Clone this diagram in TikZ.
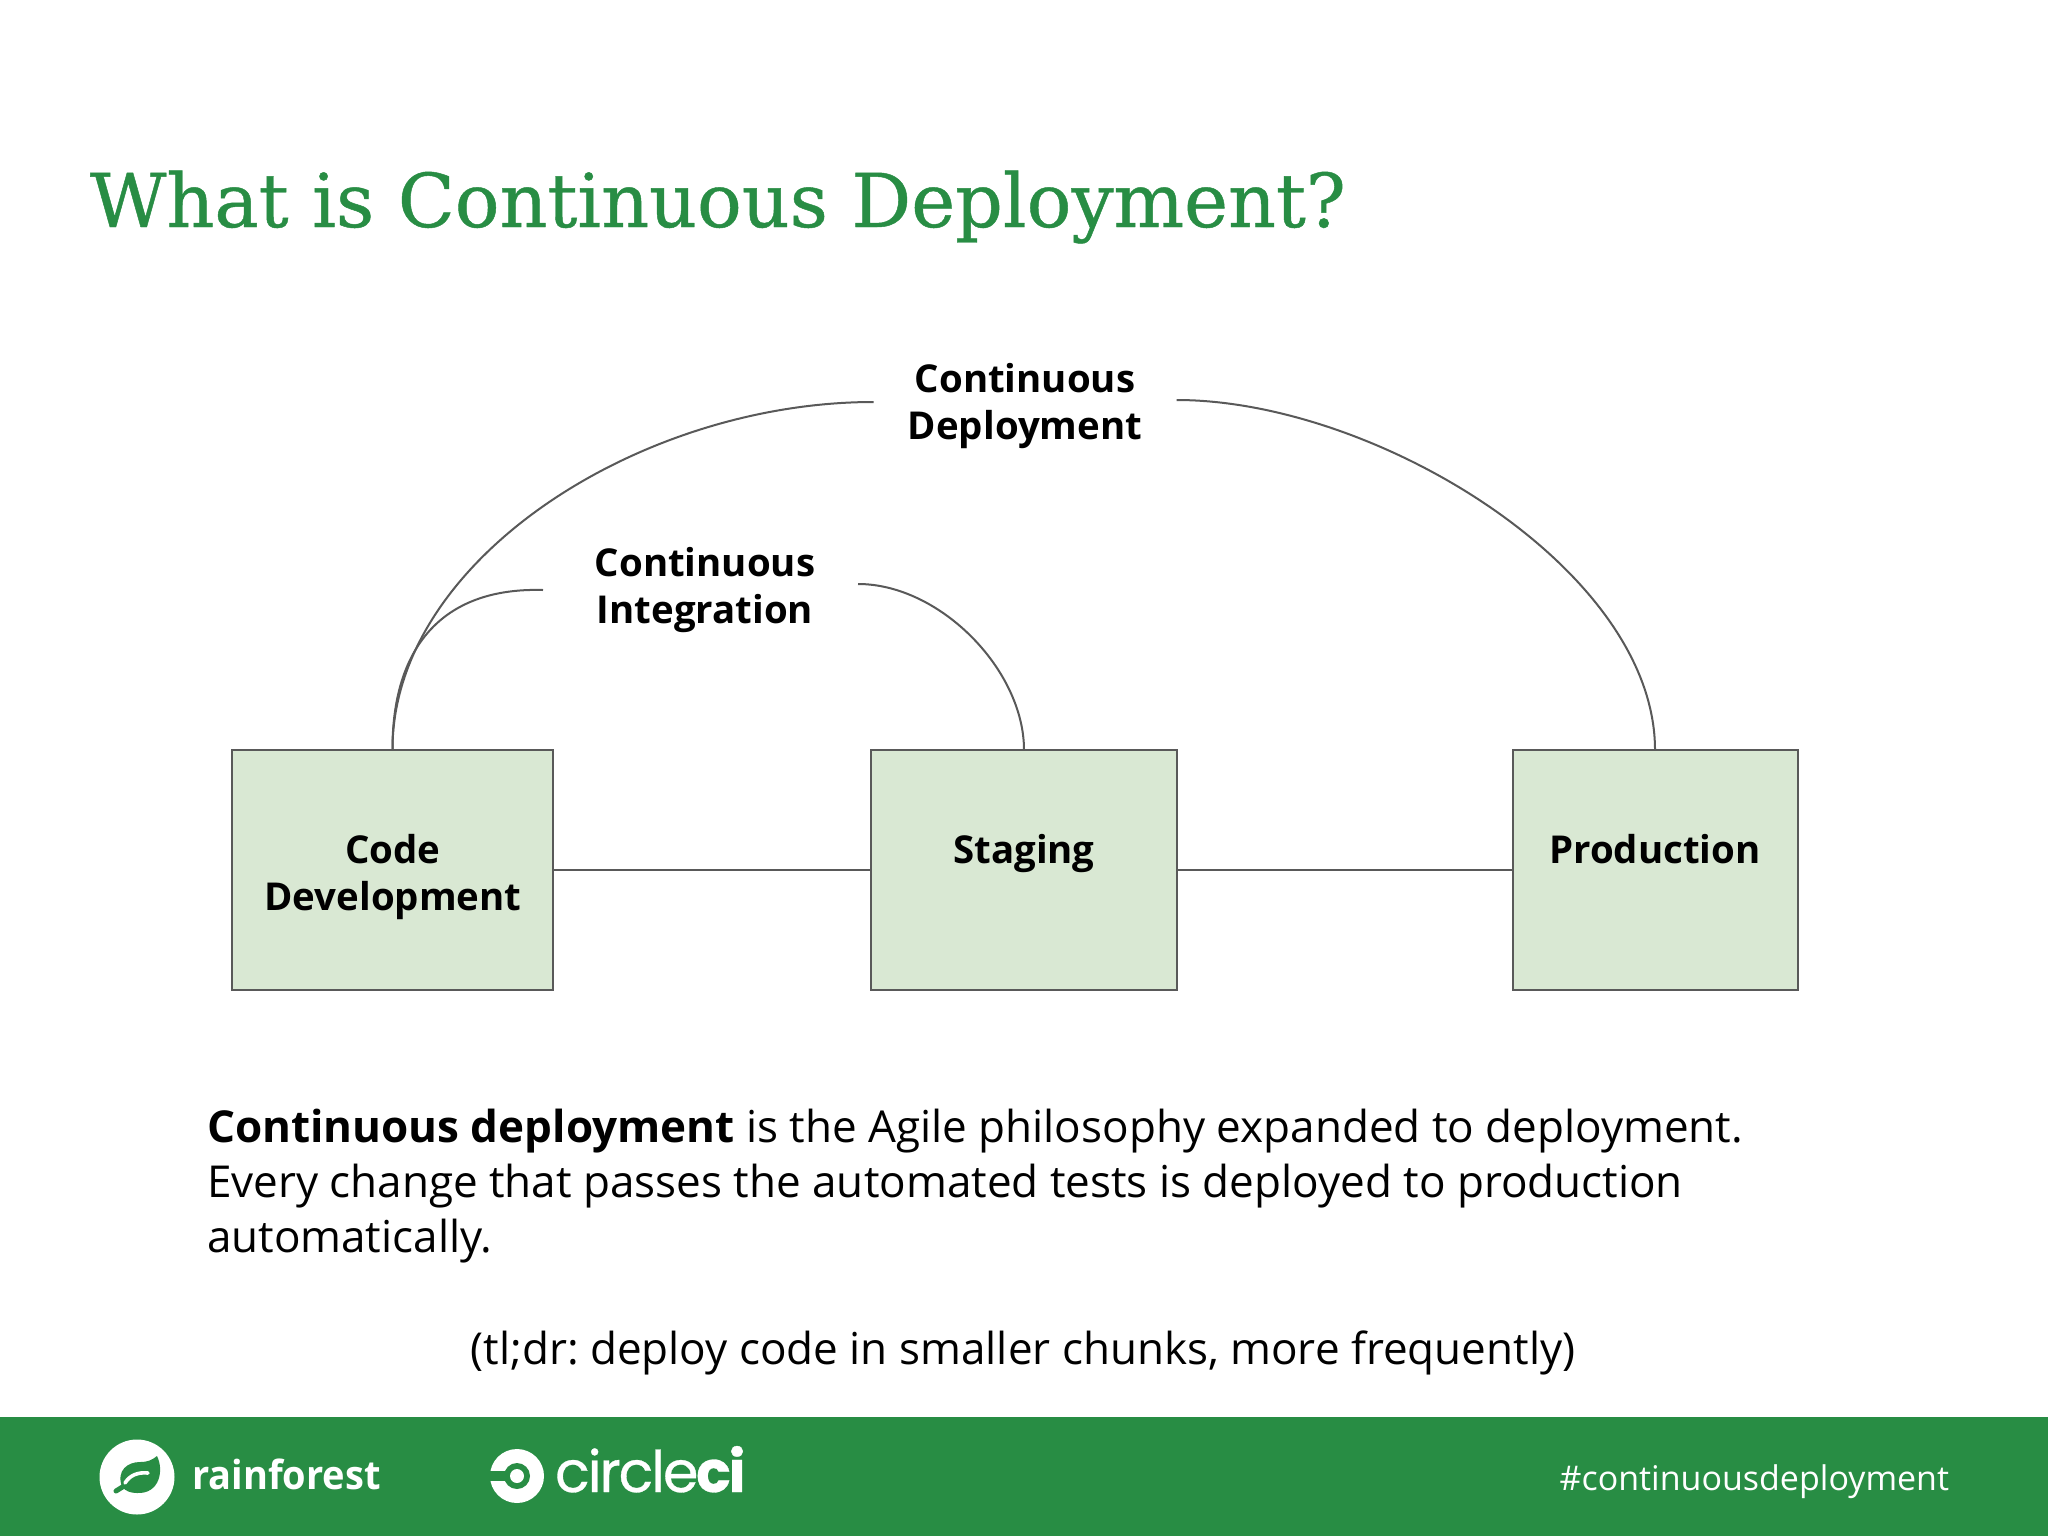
\documentclass[tikz,border=0pt]{standalone}
\usepackage{fontspec}
\setmainfont{Open Sans}
\newfontfamily\slabfont[FakeBold=0.6]{DejaVu Serif}
\newfontfamily\logofont[FakeBold=0.5,LetterSpace=-4]{Poppins}
\usetikzlibrary{positioning}
\frenchspacing
\definecolor{cgreen}{RGB}{40,141,68}
\definecolor{cbox}{RGB}{217,232,211}
\definecolor{cline}{RGB}{89,89,89}
\tikzset{
  stagebox/.style={draw=cline,fill=cbox,line width=1pt,inner sep=0pt},
  looplabel/.style={inner sep=0pt,align=center,font=\fontsize{19.2}{23.5}\selectfont\bfseries},
  looparc/.style={draw=cline,line width=1pt},
  bodytext/.style={inner sep=0pt,align=left,font=\fontsize{22}{27.7}\selectfont},
  logotext/.style={inner sep=0pt,text=white,anchor=base west}
}
\begin{document}
\begin{tikzpicture}[y=0.5pt, x=0.5pt,yscale=-1, inner sep=0pt, outer sep=0pt]
  \useasboundingbox (0,0) rectangle (2048,1536);
  \path[fill=white] (0,0) rectangle (2048,1536);
  \path[fill=cgreen] (0,1417) rectangle (2048,1536);
  % title
  \node[anchor=base west,text=cgreen,font=\fontsize{37.2}{40}\slabfont] (title) at (90,227) {What is Continuous Deployment?};
  % stages
  \node[stagebox,minimum width=160.5pt,minimum height=120pt] (code) at (392.5,870) {};
  \node[stagebox,minimum width=153pt,minimum height=120pt] (staging) at (1024,870) {};
  \node[stagebox,minimum width=142.5pt,minimum height=120pt] (production) at (1655,870) {};
  \node[looplabel] (codetext) at (393,877) {Code\\Development};
  \node[looplabel] (stagingtext) at (1024,854) {Staging};
  \node[looplabel] (productiontext) at (1655,849) {Production};
  \draw[looparc] (code.east) -- (staging.west);
  \draw[looparc] (staging.east) -- (production.west);
  % loops
  \node[looplabel,minimum width=151.5pt] (cdlabel) at (1025,406) {Continuous\\Deployment};
  \node[looplabel,minimum width=153pt] (cilabel) at (705,590) {Continuous\\Integration};
  \draw[looparc] (code.north) .. controls (392,560) and (640,402) .. ([yshift=-2pt]cdlabel.west);
  \draw[looparc] ([yshift=-3pt]cdlabel.east) .. controls (1376,400) and (1655,570) .. (production.north);
  \draw[looparc] (code.north) .. controls (392,650) and (440,587) .. ([xshift=-4.5pt]cilabel.west);
  \draw[looparc] ([yshift=-3pt]cilabel.east) .. controls (940,584) and (1024,670) .. (staging.north);
  % text
  \node[bodytext,anchor=west] (body) at (207,1186) {\textbf{Continuous deployment} is the Agile philosophy expanded to deployment.\\Every change that passes the automated tests is deployed to production\\automatically.};
  \node[bodytext] (tldr) at (1023,1353) {(tl;dr: deploy code in smaller chunks, more frequently)};
  % footer
  \path[fill=white] (137,1477) circle (37.5);
  \path[fill=cgreen] (122,1487) .. controls (116,1470) and (128,1462) .. (140,1462)
    .. controls (148,1462) and (152,1460) .. (157,1456)
    .. controls (164,1470) and (160,1494) .. (137,1493)
    .. controls (130,1493) and (126,1491) .. (122,1487) -- cycle;
  \path[draw=cgreen,line width=2.5pt,line cap=round] (116,1491) -- (124,1486);
  \path[draw=white,line width=1.8pt,line cap=round] (125,1483) .. controls (130,1475) and (138,1472) .. (148,1473);
  \node[logotext,font=\fontsize{20}{24}\selectfont\bfseries,xscale=0.95] (rainforest) at (192,1489) {rainforest};
  \path[fill=white] (517,1476) circle (27);
  \path[fill=cgreen] (517,1476) circle (13);
  \path[fill=cgreen] (488,1471) rectangle (517,1481);
  \path[fill=white] (517,1476) circle (7);
  \node[logotext,font=\fontsize{28.7}{30}\logofont] (circleci) at (555,1492) {circle\textbf{ci}};
  \node[inner sep=0pt,anchor=east,text=white,font=\fontsize{17}{22}\selectfont] (hashtag) at (1949,1482) {\#continuousdeployment};
\end{tikzpicture}
\end{document}
